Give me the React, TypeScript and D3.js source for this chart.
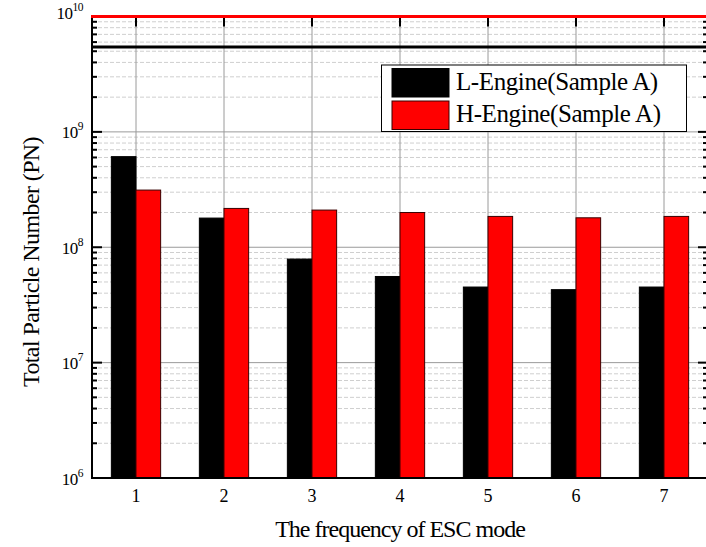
import { useEffect, useRef } from 'react';
import * as d3 from 'd3';

// Chart data
const categories = ['1', '2', '3', '4', '5', '6', '7'];
const lEngine = [6.1e8, 1.79e8, 7.9e7, 5.58e7, 4.52e7, 4.29e7, 4.52e7];
const hEngine = [3.13e8, 2.17e8, 2.1e8, 2.0e8, 1.85e8, 1.8e8, 1.85e8];
const seriesNames = ['L-Engine(Sample A)', 'H-Engine(Sample A)'];
const seriesColors = ['#000000', '#ff0000'];
const yTickExps = [6, 7, 8, 9, 10];
const referenceLine = 5.45e9;

const W = 706;
const H = 547;

const App = () => {
  const svgRef = useRef<SVGSVGElement>(null);

  useEffect(() => {
    if (!svgRef.current) return;
    const svg = d3.select(svgRef.current);
    svg.selectAll('*').remove();

    const margin = { top: 16.5, right: -2, bottom: 69, left: 92 };
    const left = margin.left;
    const right = W - margin.right;
    const top = margin.top;
    const bottom = H - margin.bottom;

    const x = d3.scaleLinear().domain([0.5, 7.5]).range([left, right]);
    const y = d3.scaleLog().domain([1e6, 1e10]).range([bottom, top]);
    const step = x(2) - x(1);
    const barW = step * 0.28;

    const font = '"Liberation Serif", "Times New Roman", serif';

    // minor dashed gridlines
    const minors: number[] = [];
    for (let e = 6; e < 10; e++) {
      for (let m = 2; m <= 9; m++) minors.push(m * Math.pow(10, e));
    }
    svg.append('g')
      .selectAll('line')
      .data(minors)
      .enter()
      .append('line')
      .attr('x1', left)
      .attr('x2', right)
      .attr('y1', d => y(d))
      .attr('y2', d => y(d))
      .attr('stroke', '#cfcfcf')
      .attr('stroke-width', 1)
      .attr('stroke-dasharray', '4,2');

    // major gridlines
    svg.append('g')
      .selectAll('line')
      .data([1e7, 1e8, 1e9])
      .enter()
      .append('line')
      .attr('x1', left)
      .attr('x2', right)
      .attr('y1', d => y(d))
      .attr('y2', d => y(d))
      .attr('stroke', '#9a9a9a')
      .attr('stroke-width', 1);

    // vertical gridlines
    svg.append('g')
      .selectAll('line')
      .data(categories)
      .enter()
      .append('line')
      .attr('x1', (_, i) => x(i + 1))
      .attr('x2', (_, i) => x(i + 1))
      .attr('y1', top)
      .attr('y2', bottom)
      .attr('stroke', '#9a9a9a')
      .attr('stroke-width', 1);

    // bars
    const series = [lEngine, hEngine];
    series.forEach((vals, s) => {
      svg.append('g')
        .selectAll('rect')
        .data(vals)
        .enter()
        .append('rect')
        .attr('x', (_, i) => x(i + 1) + (s === 0 ? -barW : 0))
        .attr('y', d => y(d))
        .attr('width', barW)
        .attr('height', d => bottom - y(d))
        .attr('fill', seriesColors[s])
        .attr('stroke', s === 0 ? '#000' : '#3a0000')
        .attr('stroke-width', 1);
    });

    // axes lines
    svg.append('line')
      .attr('x1', left).attr('x2', left).attr('y1', top).attr('y2', bottom)
      .attr('stroke', '#000').attr('stroke-width', 2);
    svg.append('line')
      .attr('x1', right).attr('x2', right).attr('y1', top).attr('y2', bottom)
      .attr('stroke', '#000').attr('stroke-width', 2);
    svg.append('line')
      .attr('x1', left - 1).attr('x2', right + 1).attr('y1', bottom).attr('y2', bottom)
      .attr('stroke', '#000').attr('stroke-width', 2);

    // y ticks (left and right, inward)
    const majors = yTickExps.map(e => Math.pow(10, e));
    const tickG = svg.append('g').attr('stroke', '#000').attr('stroke-width', 2);
    majors.forEach(v => {
      tickG.append('line').attr('x1', left).attr('x2', left + 10).attr('y1', y(v)).attr('y2', y(v));
      tickG.append('line').attr('x1', right).attr('x2', right - 10).attr('y1', y(v)).attr('y2', y(v));
    });
    minors.forEach(v => {
      tickG.append('line').attr('x1', left).attr('x2', left + 5).attr('y1', y(v)).attr('y2', y(v));
      tickG.append('line').attr('x1', right).attr('x2', right - 5).attr('y1', y(v)).attr('y2', y(v));
    });
    // top ticks at categories
    categories.forEach((_, i) => {
      tickG.append('line').attr('x1', x(i + 1)).attr('x2', x(i + 1)).attr('y1', top).attr('y2', top + 10);
    });

    // top red line and reference black line
    svg.append('line')
      .attr('x1', left - 1).attr('x2', right + 1).attr('y1', y(1e10)).attr('y2', y(1e10))
      .attr('stroke', '#ff0000').attr('stroke-width', 3);
    svg.append('line')
      .attr('x1', left - 1).attr('x2', right + 1).attr('y1', y(referenceLine)).attr('y2', y(referenceLine))
      .attr('stroke', '#000').attr('stroke-width', 3);

    // y tick labels
    yTickExps.forEach(e => {
      const t = svg.append('text')
        .attr('x', 83)
        .attr('y', y(Math.pow(10, e)) + (e === 10 ? 2 : 6.5))
        .attr('text-anchor', 'end')
        .attr('font-family', font)
        .attr('font-size', 17)
        .attr('letter-spacing', -0.5)
        .attr('fill', '#000');
      t.append('tspan').text('10');
      t.append('tspan').attr('font-size', 11.5).attr('dy', -8).text(String(e));
    });

    // x tick labels
    svg.append('g')
      .selectAll('text')
      .data(categories)
      .enter()
      .append('text')
      .attr('x', (_, i) => x(i + 1))
      .attr('y', 502)
      .attr('text-anchor', 'middle')
      .attr('font-family', font)
      .attr('font-size', 18)
      .text(d => d);

    // axis titles
    svg.append('text')
      .attr('x', 400)
      .attr('y', 537)
      .attr('text-anchor', 'middle')
      .attr('font-family', font)
      .attr('font-size', 24)
      .attr('letter-spacing', -1)
      .text('The frequency of ESC mode');

    svg.append('text')
      .attr('transform', `translate(39,262) rotate(-90)`)
      .attr('text-anchor', 'middle')
      .attr('font-family', font)
      .attr('font-size', 24)
      .attr('letter-spacing', -0.6)
      .text('Total Particle Number (PN)');

    // legend
    const lg = svg.append('g').attr('transform', 'translate(381.5,65)');
    lg.append('rect')
      .attr('width', 305)
      .attr('height', 66.5)
      .attr('fill', '#fff')
      .attr('stroke', '#000')
      .attr('stroke-width', 1);
    seriesNames.forEach((name, i) => {
      lg.append('rect')
        .attr('x', 10.5)
        .attr('y', 3.5 + i * 32.5)
        .attr('width', 57)
        .attr('height', 28.5)
        .attr('fill', seriesColors[i])
        .attr('stroke', i === 0 ? '#000' : '#3a0000')
        .attr('stroke-width', 1);
      lg.append('text')
        .attr('x', 74.5)
        .attr('y', 24.5 + i * 32.5)
        .attr('font-family', font)
        .attr('font-size', 25)
        .attr('letter-spacing', -0.4)
        .text(name);
    });
  }, []);

  return (
    <div style={{ position: 'fixed', left: 0, top: 0, width: W, height: H, overflow: 'hidden', background: '#fff' }}>
      <svg ref={svgRef} width={W} height={H} style={{ display: 'block' }} />
    </div>
  );
};

export default App;
